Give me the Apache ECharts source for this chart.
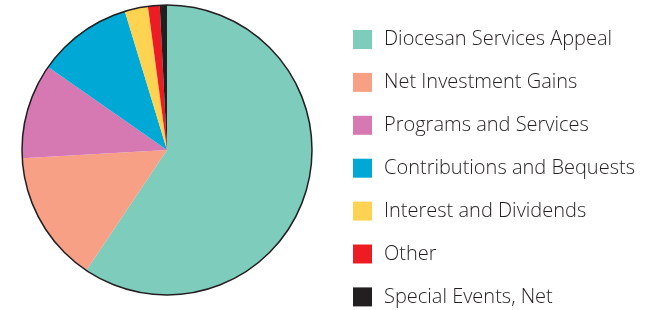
<!DOCTYPE html>
<html><head><meta charset="utf-8">
<script src="https://cdn.jsdelivr.net/npm/echarts@6/dist/echarts.min.js"></script>
<style>html,body{margin:0;padding:0;background:#fff}#c{width:670px;height:310px}</style>
</head><body><div id="c"></div>
<script>
const categories = ["Diocesan Services Appeal","Net Investment Gains","Programs and Services","Contributions and Bequests","Interest and Dividends","Other","Special Events, Net"];
const values = [59.4, 14.7, 10.6, 10.6, 2.6, 1.3, 0.8];
const colors = ["#7dccbc","#f7a085","#d679b3","#00a9d5","#ffd352","#ed1c24","#231f20"];

const chart = echarts.init(document.getElementById('c'), null, {renderer:'canvas'});
chart.setOption({
  animation:false,
  color: colors,
  legend:{
    orient:'vertical', left:353, top:29.5, height:300, padding:0,
    itemWidth:19, itemHeight:19, itemGap:22.9,
    icon:'rect', selectedMode:false,
    textStyle:{fontFamily:'Open Sans', fontWeight:300, fontSize:20, color:'#231f20', lineHeight:19, padding:[0,0,0,7]},
    data: categories
  },
  series:[
    {type:'pie', center:[167,150], radius:[0,145], startAngle:90, clockwise:true,
     label:{show:false}, labelLine:{show:false}, emphasis:{disabled:true}, silent:true,
     itemStyle:{borderWidth:0},
     data: categories.map((n,i)=>({name:n, value:values[i]}))},
    {type:'pie', center:[167,150], radius:[0,145], silent:true, label:{show:false}, labelLine:{show:false},
     emphasis:{disabled:true}, legendHoverLink:false, z:3,
     itemStyle:{color:'rgba(0,0,0,0)', borderColor:'#231f20', borderWidth:1.5},
     data:[{name:'_outline', value:1}]}
  ]
});
</script></body></html>
